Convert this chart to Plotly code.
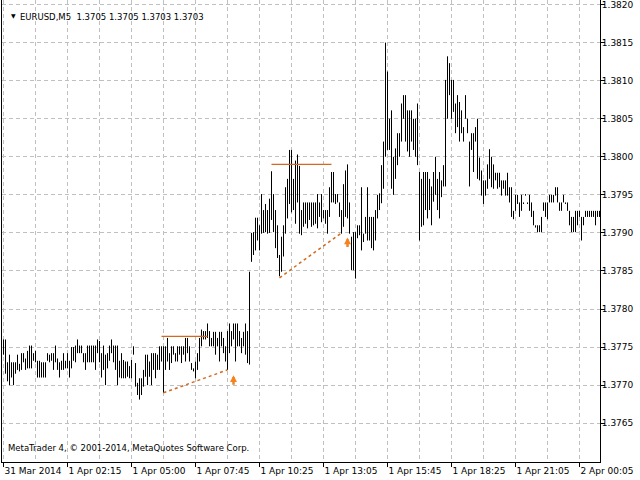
import plotly.graph_objects as go

# MT4 style M5 bar chart, EURUSD 31 Mar - 2 Apr 2014
symbol = "EURUSD,M5"
header_prices = ["1.3705", "1.3705", "1.3703", "1.3703"]
copyright_text = "MetaTrader 4, © 2001-2014, MetaQuotes Software Corp."

bar_high = [
    1.37760, 1.37760, 1.37730, 1.37740, 1.37730, 1.37730, 1.37730, 1.37740, 1.37728, 1.37742,
    1.37742, 1.37735, 1.37745, 1.37752, 1.37752, 1.37742, 1.37745, 1.37732, 1.37732, 1.37730,
    1.37730, 1.37730, 1.37742, 1.37740, 1.37742, 1.37742, 1.37752, 1.37735, 1.37730, 1.37732,
    1.37742, 1.37732, 1.37742, 1.37732, 1.37750, 1.37750, 1.37752, 1.37760, 1.37752, 1.37752,
    1.37742, 1.37742, 1.37752, 1.37752, 1.37752, 1.37752, 1.37752, 1.37760, 1.37758, 1.37742,
    1.37752, 1.37740, 1.37742, 1.37752, 1.37760, 1.37752, 1.37752, 1.37752, 1.37732, 1.37742,
    1.37733, 1.37731, 1.37731, 1.37725, 1.37733, 1.37751, 1.37729, 1.37703, 1.37709, 1.37709,
    1.37720, 1.37740, 1.37740, 1.37731, 1.37742, 1.37742, 1.37742, 1.37740, 1.37751, 1.37751,
    1.37751, 1.37751, 1.37762, 1.37742, 1.37751, 1.37751, 1.37742, 1.37751, 1.37751, 1.37751,
    1.37751, 1.37762, 1.37762, 1.37751, 1.37729, 1.37722, 1.37731, 1.37742, 1.37762, 1.37773,
    1.37771, 1.37771, 1.37781, 1.37771, 1.37762, 1.37770, 1.37770, 1.37762, 1.37770, 1.37770,
    1.37762, 1.37751, 1.37771, 1.37781, 1.37771, 1.37781, 1.37781, 1.37781, 1.37771, 1.37762,
    1.37770, 1.37781, 1.37771, 1.37849, 1.37900, 1.37901, 1.37920, 1.37920, 1.37910, 1.37951,
    1.37930, 1.37938, 1.37930, 1.37945, 1.37981, 1.37951, 1.37930, 1.37910, 1.37871, 1.37895,
    1.37910, 1.37960, 1.37971, 1.38009, 1.38009, 1.37971, 1.37995, 1.38003, 1.37988, 1.37930,
    1.37940, 1.37940, 1.37940, 1.37940, 1.37940, 1.37940, 1.37940, 1.37951, 1.37940, 1.37951,
    1.37930, 1.37930, 1.37930, 1.37960, 1.37980, 1.37980, 1.37951, 1.37951, 1.37940, 1.37930,
    1.37964, 1.37982, 1.37990, 1.37940, 1.37895, 1.37901, 1.37901, 1.37910, 1.37910, 1.37960,
    1.37899, 1.37921, 1.37960, 1.37921, 1.37921, 1.37921, 1.37930, 1.37950, 1.37952, 1.37989,
    1.38020, 1.38150, 1.38112, 1.38050, 1.38061, 1.38000, 1.38011, 1.38031, 1.38031, 1.38070,
    1.38081, 1.38081, 1.38061, 1.38061, 1.38061, 1.38050, 1.38050, 1.38070, 1.37980, 1.37971,
    1.37980, 1.37980, 1.37980, 1.37971, 1.37961, 1.37980, 1.38000, 1.37971, 1.37980, 1.37969,
    1.37989, 1.38101, 1.38132, 1.38123, 1.38101, 1.38101, 1.38070, 1.38081, 1.38072, 1.38061,
    1.38039, 1.38081, 1.38050, 1.38020, 1.38031, 1.38031, 1.38039, 1.38050, 1.37999, 1.37982,
    1.37969, 1.37969, 1.37990, 1.38010, 1.38000, 1.37990, 1.37979, 1.37979, 1.37979, 1.37969,
    1.37969, 1.37969, 1.37979, 1.37960, 1.37960, 1.37929, 1.37950, 1.37950, 1.37940, 1.37950,
    1.37940, 1.37951, 1.37940, 1.37950, 1.37940, 1.37929, 1.37910, 1.37910, 1.37910, 1.37921,
    1.37940, 1.37940, 1.37940, 1.37950, 1.37950, 1.37950, 1.37960, 1.37960, 1.37940, 1.37940,
    1.37950, 1.37940, 1.37940, 1.37929, 1.37921, 1.37921, 1.37929, 1.37929, 1.37929, 1.37921,
    1.37921, 1.37929, 1.37929, 1.37929, 1.37929, 1.37929, 1.37929, 1.37929, 1.37929,
]

bar_low = [
    1.37740, 1.37715, 1.37705, 1.37700, 1.37710, 1.37700, 1.37715, 1.37720, 1.37718, 1.37720,
    1.37730, 1.37720, 1.37722, 1.37722, 1.37722, 1.37732, 1.37730, 1.37710, 1.37710, 1.37710,
    1.37710, 1.37710, 1.37732, 1.37730, 1.37732, 1.37720, 1.37730, 1.37720, 1.37710, 1.37720,
    1.37720, 1.37722, 1.37722, 1.37710, 1.37722, 1.37732, 1.37730, 1.37742, 1.37742, 1.37742,
    1.37730, 1.37720, 1.37730, 1.37730, 1.37730, 1.37730, 1.37720, 1.37742, 1.37730, 1.37710,
    1.37720, 1.37700, 1.37722, 1.37732, 1.37742, 1.37730, 1.37720, 1.37700, 1.37710, 1.37709,
    1.37709, 1.37709, 1.37711, 1.37709, 1.37709, 1.37740, 1.37698, 1.37687, 1.37681, 1.37687,
    1.37698, 1.37711, 1.37700, 1.37711, 1.37700, 1.37720, 1.37709, 1.37720, 1.37720, 1.37731,
    1.37690, 1.37720, 1.37731, 1.37720, 1.37729, 1.37740, 1.37731, 1.37731, 1.37740, 1.37729,
    1.37740, 1.37731, 1.37742, 1.37731, 1.37720, 1.37718, 1.37709, 1.37720, 1.37731, 1.37751,
    1.37760, 1.37760, 1.37762, 1.37751, 1.37751, 1.37751, 1.37740, 1.37751, 1.37731, 1.37751,
    1.37742, 1.37731, 1.37720, 1.37742, 1.37751, 1.37760, 1.37731, 1.37751, 1.37751, 1.37742,
    1.37751, 1.37740, 1.37729, 1.37727, 1.37862, 1.37871, 1.37877, 1.37890, 1.37877, 1.37899,
    1.37900, 1.37901, 1.37899, 1.37900, 1.37917, 1.37901, 1.37880, 1.37867, 1.37843, 1.37849,
    1.37869, 1.37899, 1.37919, 1.37938, 1.37927, 1.37930, 1.37912, 1.37940, 1.37899, 1.37897,
    1.37908, 1.37912, 1.37906, 1.37917, 1.37908, 1.37910, 1.37912, 1.37906, 1.37921, 1.37914,
    1.37919, 1.37912, 1.37899, 1.37921, 1.37940, 1.37940, 1.37938, 1.37940, 1.37921, 1.37899,
    1.37908, 1.37921, 1.37919, 1.37899, 1.37851, 1.37851, 1.37840, 1.37893, 1.37897, 1.37877,
    1.37888, 1.37899, 1.37890, 1.37890, 1.37880, 1.37877, 1.37890, 1.37919, 1.37930, 1.37939,
    1.37958, 1.38000, 1.38009, 1.38009, 1.37958, 1.37950, 1.37971, 1.37989, 1.38000, 1.38020,
    1.38050, 1.38020, 1.38007, 1.38000, 1.38020, 1.38009, 1.38000, 1.37989, 1.37890, 1.37908,
    1.37910, 1.37930, 1.37919, 1.37930, 1.37910, 1.37941, 1.37950, 1.37930, 1.37919, 1.37947,
    1.37961, 1.37961, 1.38050, 1.38081, 1.38050, 1.38059, 1.38031, 1.38039, 1.38020, 1.38031,
    1.38020, 1.38050, 1.38031, 1.37961, 1.38009, 1.37980, 1.38020, 1.37971, 1.37969, 1.37949,
    1.37938, 1.37949, 1.37958, 1.37971, 1.37960, 1.37958, 1.37969, 1.37958, 1.37960, 1.37949,
    1.37958, 1.37949, 1.37949, 1.37940, 1.37921, 1.37918, 1.37929, 1.37938, 1.37921, 1.37929,
    1.37938, 1.37949, 1.37938, 1.37929, 1.37921, 1.37910, 1.37907, 1.37901, 1.37901, 1.37901,
    1.37929, 1.37921, 1.37918, 1.37940, 1.37940, 1.37940, 1.37949, 1.37940, 1.37929, 1.37929,
    1.37940, 1.37938, 1.37929, 1.37910, 1.37901, 1.37901, 1.37901, 1.37910, 1.37921, 1.37890,
    1.37910, 1.37921, 1.37921, 1.37921, 1.37921, 1.37921, 1.37910, 1.37921, 1.37921,
]

# time axis (bar numbers, MT4 has no gaps)
time_ticks = [0, 32, 64, 96, 128, 160, 192, 224, 256, 288]
time_labels = ["31 Mar 2014", "1 Apr 02:15", "1 Apr 05:00", "1 Apr 07:45", "1 Apr 10:25",
               "1 Apr 13:05", "1 Apr 15:45", "1 Apr 18:25", "1 Apr 21:05", "2 Apr 00:05"]
price_ticks = [1.3765, 1.3770, 1.3775, 1.3780, 1.3785, 1.3790,
               1.3795, 1.3800, 1.3805, 1.3810, 1.3815, 1.3820]

# objects drawn on the chart
trend_bars = [[80, 112], [138, 169]]
trend_prices = [[1.37690, 1.37720], [1.37841, 1.37900]]
level_bars = [[79, 102], [134, 164]]
level_prices = [1.37764, 1.37990]
arrow_bars = [115, 172]
arrow_prices = [1.37713, 1.37894]

grid_color = "#c0c0c0"
obj_color = "#d2691e"
arrow_color = "#f5821f"

xs, ys = [], []
for i, (h, l) in enumerate(zip(bar_high, bar_low)):
    xs += [i, i, None]
    ys += [l, h, None]

fig = go.Figure()
fig.add_trace(go.Scatter(x=xs, y=ys, mode="lines", line=dict(color="black", width=1),
                         hoverinfo="skip", name="Price"))

for b, p in zip(level_bars, level_prices):
    fig.add_trace(go.Scatter(x=b, y=[p, p], mode="lines", line=dict(color=obj_color, width=1.2),
                             hoverinfo="skip"))
for b, p in zip(trend_bars, trend_prices):
    fig.add_trace(go.Scatter(x=b, y=p, mode="lines", line=dict(color=obj_color, width=1.5, dash="dot"),
                             hoverinfo="skip"))

for b, p in zip(arrow_bars, arrow_prices):
    fig.add_annotation(x=b, y=p, text="", showarrow=True, ax=0, ay=11, arrowhead=2,
                       arrowwidth=2.5, arrowsize=0.55, arrowcolor=arrow_color, standoff=0)

# header and copyright
fig.add_annotation(xref="paper", yref="paper", x=0.0125, y=0.978, text="▼", showarrow=False,
                   font=dict(size=6, color="black"))
fig.add_annotation(xref="paper", yref="paper", x=0.026, y=0.978, xanchor="left",
                   text=symbol + "\u00a0\u00a0" + " ".join(header_prices), showarrow=False,
                   font=dict(size=8.5))
fig.add_annotation(xref="paper", yref="paper", x=0.007, y=0.015, xanchor="left",
                   text=copyright_text, showarrow=False, font=dict(size=8.5))

fig.update_layout(
    width=640, height=480,
    margin=dict(l=2, r=40, t=0, b=18),
    plot_bgcolor="white", paper_bgcolor="white",
    showlegend=False,
    font=dict(family="DejaVu Sans", size=9, color="black"),
)
fig.update_xaxes(range=[-0.75, 298.25], tickmode="array", tickvals=time_ticks, ticktext=time_labels,
                 tickangle=0, automargin=False, ticklabeloverflow="allow",
                 ticks="outside", ticklen=4, tickcolor="black", ticklabelposition="outside right",
                 showline=True, linecolor="black", linewidth=1, zeroline=False,
                 showgrid=True, gridcolor=grid_color, griddash="4px,3px",
                 minor=dict(tickmode="linear", tick0=0, dtick=16, showgrid=True,
                            gridcolor=grid_color, griddash="4px,3px", ticks=""))
fig.update_yaxes(side="right", range=[1.37599, 1.38206], tickmode="array", tickvals=price_ticks,
                 tickformat=".4f", automargin=False, ticklabeloverflow="allow", ticklabelstandoff=-5,
                 ticks="outside", ticklen=4, tickcolor="black",
                 showline=True, mirror=True, linecolor="black", linewidth=1, zeroline=False,
                 showgrid=True, gridcolor=grid_color, griddash="4px,3px")

# the page body has a default 8px margin; drop it so the chart sits at the window corner
fig.write_html("out.html", config={"displayModeBar": False},
               post_script="document.body.style.margin='0px';")
